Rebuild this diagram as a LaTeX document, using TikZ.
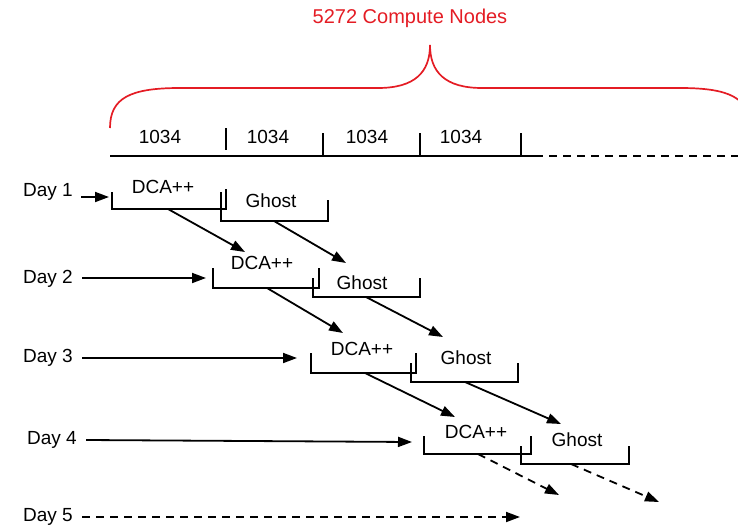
\documentclass[tikz,border=0pt]{standalone}
\usepackage{fontspec}
\setmainfont{Liberation Sans}
\usetikzlibrary{arrows.meta}
\definecolor{bracered}{RGB}{228,28,36}
\tikzset{
	lbl/.style={font=\fontsize{19}{22}\selectfont, inner sep=1pt},
	bracket/.style={line width=2pt, line join=miter},
	flow/.style={line width=1.8pt, -{Triangle[length=14pt,width=10pt]}},
	dashflow/.style={flow, dash pattern=on 8pt off 6pt},
}

\begin{document}
\begin{tikzpicture}[x=1pt,y=-1pt]
	\useasboundingbox (0,0) rectangle (738,527);
	
	% compute nodes
	\node[lbl,text=bracered,font=\fontsize{20}{22}\selectfont] (total) at (410,18) {5272 Compute Nodes};
	\draw[bracered,line width=1.7pt] (110,128) .. controls (110,98) and (130,88) .. (180,88) -- (378,88) .. controls (415,88) and (430,72) .. (430,45) .. controls (430,72) and (445,88) .. (482,88) -- (680,88) .. controls (730,88) and (750,98) .. (750,128);
	
	\draw[line width=2pt] (110,156) -- (535,156);
	\draw[line width=2pt,dash pattern=on 8pt off 6pt] (535,156) -- (738,156);
	\draw[line width=2pt] (226,128) -- (226,150);
	\draw[line width=2pt] (323,133) -- (323,155);
	\draw[line width=2pt] (420,133) -- (420,155);
	\draw[line width=2pt] (521,133) -- (521,155);
	\node[lbl] (part1) at (160,137) {1034};
	\node[lbl] (part2) at (268,137) {1034};
	\node[lbl] (part3) at (367,137) {1034};
	\node[lbl] (part4) at (461,137) {1034};
	
	% day 1
	\node[lbl] (day1) at (48,192) {Day 1};
	\node[lbl] (dca1) at (163,187) {DCA++};
	\node[lbl] (ghost1) at (271,201) {Ghost};
	\draw[bracket] (112,192) |- (226,209) -- (226,189);
	\draw[bracket] (221,192) |- (328,221) -- (328,200);
	\coordinate (in1) at (109,197);
	\coordinate (dcab1) at (168,209);
	\coordinate (ghostb1) at (274,221);
	\draw[flow] ([xshift=7pt]day1.east |- in1) -- (in1);
	
	% day 2
	\node[lbl] (day2) at (48,279) {Day 2};
	\node[lbl] (dca2) at (262,263) {DCA++};
	\node[lbl] (ghost2) at (362,283) {Ghost};
	\draw[bracket] (213,268) |- (319,288) -- (319,268);
	\draw[bracket] (313,278) |- (420,297) -- (420,278);
	\coordinate (in2) at (206,278);
	\coordinate (dcat2) at (245,252);
	\coordinate (ghostt2) at (346,263);
	\coordinate (dcab2) at (267,288);
	\coordinate (ghostb2) at (366,297);
	\draw[flow] ([xshift=8pt]day2.east |- in2) -- (in2);
	\draw[flow] (dcab1) -- (dcat2);
	\draw[flow] (ghostb1) -- (ghostt2);
	
	% day 3
	\node[lbl] (day3) at (48,358) {Day 3};
	\node[lbl] (dca3) at (362,349) {DCA++};
	\node[lbl] (ghost3) at (466,358) {Ghost};
	\draw[bracket] (311,353) |- (416,373) -- (416,353);
	\draw[bracket] (411,363) |- (518,382) -- (518,363);
	\coordinate (in3) at (297,358);
	\coordinate (dcat3) at (343,333);
	\coordinate (ghostt3) at (443,337);
	\coordinate (dcab3) at (365,373);
	\coordinate (ghostb3) at (465,382);
	\draw[flow] ([xshift=8pt]day3.east |- in3) -- (in3);
	\draw[flow] (dcab2) -- (dcat3);
	\draw[flow] (ghostb2) -- (ghostt3);
	
	% day 4
	\node[lbl] (day4) at (52,440) {Day 4};
	\node[lbl] (dca4) at (476,432) {DCA++};
	\node[lbl] (ghost4) at (577,440) {Ghost};
	\draw[bracket] (424,436) |- (531,454) -- (531,436);
	\draw[bracket] (521,446) |- (629,464) -- (629,446);
	\coordinate (in4) at (412,442);
	\coordinate (dcat4) at (455,417);
	\coordinate (ghostt4) at (561,424);
	\coordinate (dcab4) at (478,454);
	\coordinate (ghostb4) at (571,464);
	\coordinate (dcanext) at (559,495);
	\coordinate (ghostnext) at (659,502);
	\draw[flow] ([xshift=8pt]day4.east) -- (in4);
	\draw[flow] (dcab3) -- (dcat4);
	\draw[flow] (ghostb3) -- (ghostt4);
	\draw[dashflow] (dcab4) -- (dcanext);
	\draw[dashflow] (ghostb4) -- (ghostnext);
	
	% day 5
	\node[lbl] (day5) at (48,517) {Day 5};
	\coordinate (in5) at (520,517);
	\draw[dashflow] ([xshift=8pt]day5.east) -- (in5);
\end{tikzpicture}
\end{document}
